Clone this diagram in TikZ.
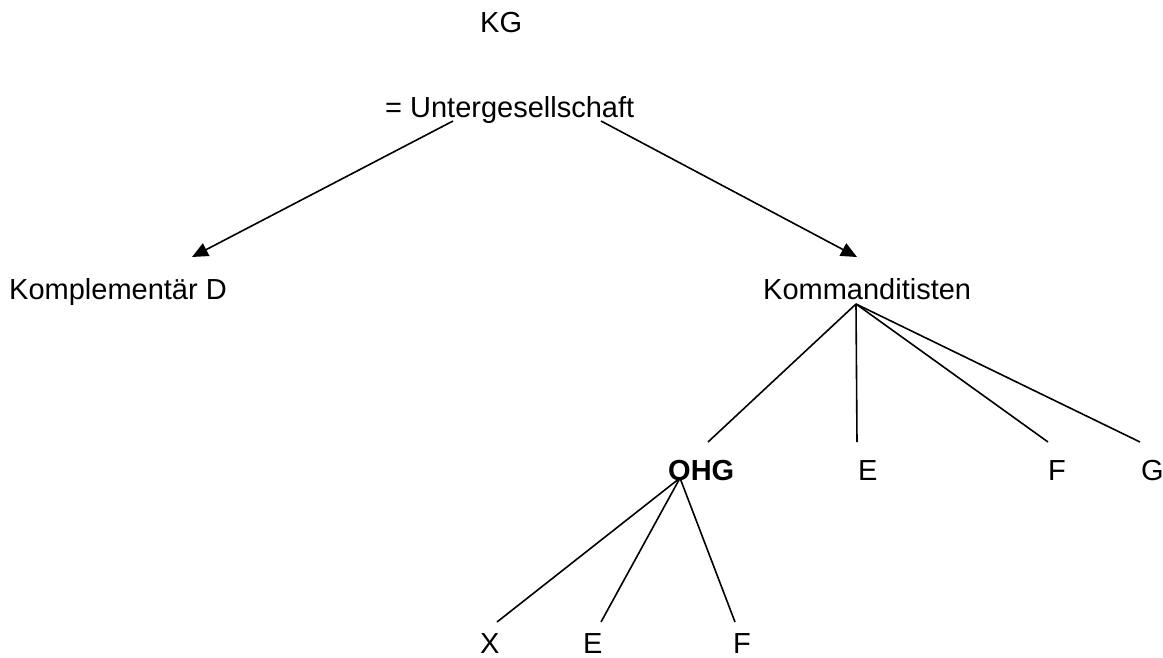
\documentclass[tikz,border=0pt]{standalone}
\usepackage{fontspec}
\setmainfont{Liberation Sans}
\usetikzlibrary{arrows.meta, calc}

\begin{document}
\begin{tikzpicture}[x=1pt, y=-1pt,
    lbl/.style={inner sep=0pt, anchor=base west, font=\fontsize{29}{34}\selectfont},
    conn/.style={line width=1.6pt},
    arr/.style={conn, -{Triangle[length=16pt, width=14pt]}}]
        \useasboundingbox (0,0) rectangle (1163,657);

        % Top
        \node[lbl] (kg) at (480,32) {KG};
        \node[lbl] (unter) at (385,117) {= Untergesellschaft};

        % Second row
        \node[lbl] (kompl) at (9,299) {Komplementär D};
        \node[lbl] (komm) at (763,299) {Kommanditisten};
        \draw[arr] ($(unter.base west)+(68,4)$) -- ($(kompl.base west)+(183,-42)$);
        \draw[arr] ($(unter.base west)+(216,4)$) -- ($(komm.base west)+(94,-42)$);

        % Kommanditisten
        \node[lbl, font=\fontsize{29}{34}\selectfont\bfseries] (ohg) at (668,480) {OHG};
        \node[lbl] (e1) at (858,480) {E};
        \node[lbl] (f1) at (1048,480) {F};
        \node[lbl] (g1) at (1141,480) {G};
        \coordinate (kfoot) at ($(komm.base west)+(93,5)$);
        \draw[conn] (kfoot) -- ($(ohg.base west)+(40,-38)$);
        \draw[conn] (kfoot) -- ($(e1.base west)+(-1,-38)$);
        \draw[conn] (kfoot) -- ($(f1.base west)+(0,-38)$);
        \draw[conn] (kfoot) -- ($(g1.base west)+(-1,-38)$);

        % OHG members
        \node[lbl] (x2) at (480,653) {X};
        \node[lbl] (e2) at (583,653) {E};
        \node[lbl] (f2) at (733,653) {F};
        \coordinate (ofoot) at ($(ohg.base west)+(12,-2)$);
        \foreach \m/\dx in {x2/17, e2/18, f2/2}{
          \draw[conn] (ofoot) -- ($(\m.base west)+(\dx,-31)$);
        }
      \end{tikzpicture}
\end{document}
